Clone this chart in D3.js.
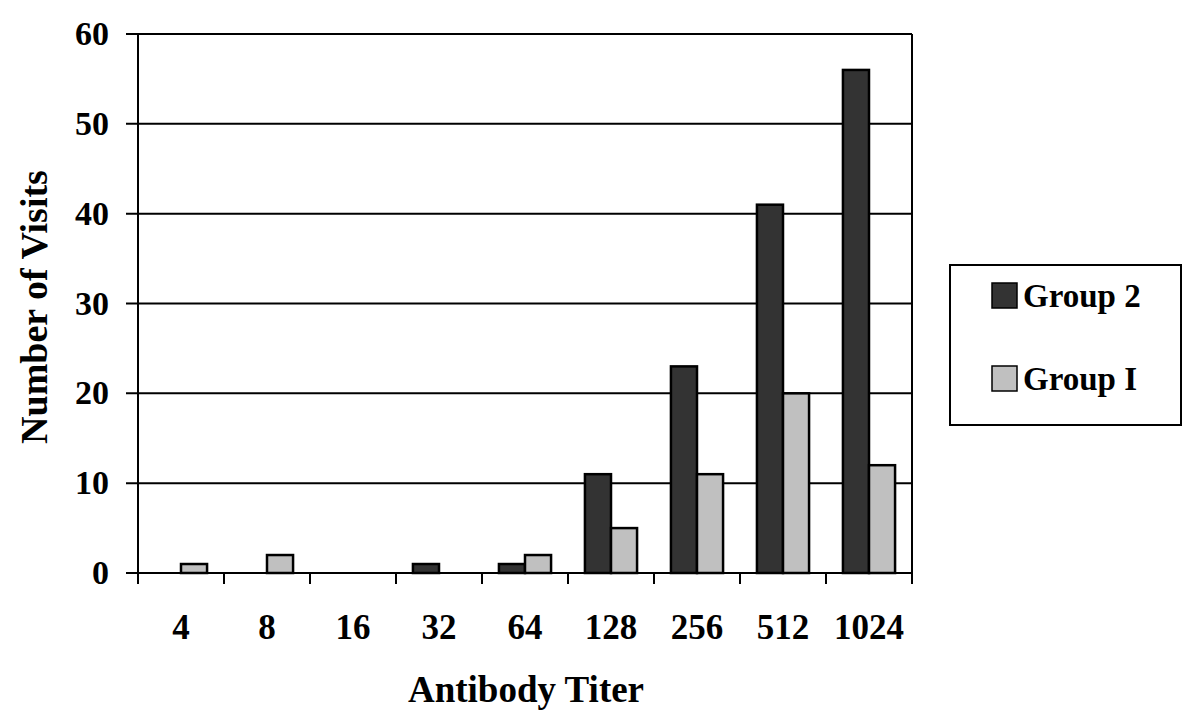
<!DOCTYPE html>
<html>
<head>
<meta charset="utf-8">
<script src="https://cdn.jsdelivr.net/npm/d3@7"></script>
<style>
  body { margin: 0; background: #fff; }
  svg text { font-family: "Liberation Serif", "Times New Roman", serif; font-weight: bold; }
</style>
</head>
<body>
<div id="chart"></div>
<script>
var titers = ["4", "8", "16", "32", "64", "128", "256", "512", "1024"];
var group2 = [0, 0, 0, 1, 1, 11, 23, 41, 56];
var group1 = [1, 2, 0, 0, 2, 5, 11, 20, 12];
var seriesNames = ["Group 2", "Group I"];
var seriesColors = ["#333333", "#c0c0c0"];
var yTicks = [0, 10, 20, 30, 40, 50, 60];

function init() {
    createBars();
}

function createBars() {
    var width = 1200, height = 728;
    var left = 138, right = 912, top = 34, bottom = 573;

    var svg = d3.select("#chart").append("svg")
        .attr("width", width)
        .attr("height", height);

    var x = d3.scaleBand().domain(titers).range([left, right]).paddingInner(0).paddingOuter(0);
    var xs = d3.scaleBand().domain(seriesNames).range([0, x.bandwidth()]).paddingInner(0).paddingOuter(0.65);
    var y = d3.scaleLinear().domain([0, 60]).range([bottom, top]);

    // gridlines
    svg.append("g")
        .selectAll("line")
        .data(yTicks)
        .enter().append("line")
        .attr("x1", left - 12).attr("x2", right)
        .attr("y1", d => y(d)).attr("y2", d => y(d))
        .attr("stroke", "#000").attr("stroke-width", 2);

    // y labels
    svg.append("g")
        .selectAll("text")
        .data(yTicks)
        .enter().append("text")
        .attr("x", 109)
        .attr("y", d => y(d) + 11)
        .attr("text-anchor", "end")
        .attr("font-size", 34)
        .text(d => d);

    // right border and y axis
    svg.append("line").attr("x1", right).attr("x2", right).attr("y1", top).attr("y2", bottom)
        .attr("stroke", "#000").attr("stroke-width", 2);
    svg.append("line").attr("x1", left).attr("x2", left).attr("y1", top).attr("y2", bottom)
        .attr("stroke", "#000").attr("stroke-width", 2);

    // bars
    var rows = titers.map(function(t, i) {
        return { titer: t, values: [group2[i], group1[i]] };
    });
    var groups = svg.append("g").selectAll("g")
        .data(rows)
        .enter().append("g")
        .attr("transform", d => "translate(" + x(d.titer) + ",0)");
    groups.selectAll("rect")
        .data(d => d.values.map((v, j) => ({ name: seriesNames[j], value: v, color: seriesColors[j] })))
        .enter().filter(d => d.value > 0).append("rect")
        .attr("x", d => xs(d.name))
        .attr("width", xs.bandwidth())
        .attr("y", d => y(d.value))
        .attr("height", d => y(0) - y(d.value))
        .attr("fill", d => d.color)
        .attr("stroke", "#000")
        .attr("stroke-width", 2.5);

    // x axis
    svg.append("line").attr("x1", left).attr("x2", right).attr("y1", bottom).attr("y2", bottom)
        .attr("stroke", "#000").attr("stroke-width", 2);
    var bounds = titers.map(t => x(t)).concat([right]);
    svg.append("g").selectAll("line")
        .data(bounds)
        .enter().append("line")
        .attr("x1", d => d).attr("x2", d => d)
        .attr("y1", bottom).attr("y2", bottom + 11)
        .attr("stroke", "#000").attr("stroke-width", 2);
    svg.append("g").selectAll("text")
        .data(titers)
        .enter().append("text")
        .attr("x", d => x(d) + x.bandwidth() / 2)
        .attr("y", 639)
        .attr("text-anchor", "middle")
        .attr("font-size", 35)
        .text(d => d);

    // axis titles
    svg.append("text")
        .attr("x", 526).attr("y", 702)
        .attr("text-anchor", "middle")
        .attr("font-size", 37)
        .text("Antibody Titer");
    svg.append("text")
        .attr("transform", "translate(47,307) rotate(-90)")
        .attr("text-anchor", "middle")
        .attr("font-size", 38)
        .text("Number of Visits");

    // legend
    var lg = svg.append("g");
    lg.append("rect")
        .attr("x", 950).attr("y", 265).attr("width", 231).attr("height", 160)
        .attr("fill", "#fff").attr("stroke", "#000").attr("stroke-width", 2);
    var items = lg.selectAll("g.item")
        .data(seriesNames)
        .enter().append("g")
        .attr("class", "item")
        .attr("transform", (d, i) => "translate(992," + (283 + i * 83) + ")");
    items.append("rect")
        .attr("width", 25).attr("height", 25)
        .attr("fill", (d, i) => seriesColors[i])
        .attr("stroke", "#000").attr("stroke-width", 1.5);
    items.append("text")
        .attr("x", 31).attr("y", 24)
        .attr("font-size", 33)
        .text(d => d);
}

init();
</script>
</body>
</html>
